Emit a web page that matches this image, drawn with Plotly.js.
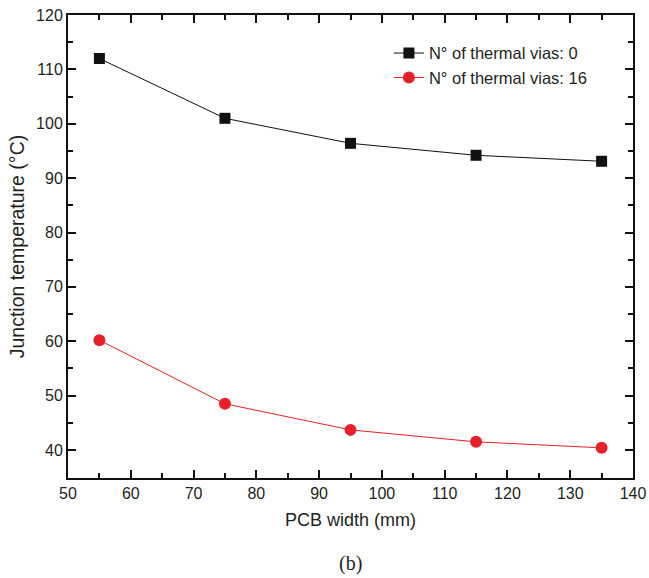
<!DOCTYPE html>
<html><head><meta charset="utf-8">
<script src="https://cdn.plot.ly/plotly-3.0.1.min.js"></script>
<style>body{margin:0;padding:0;background:#fff}#chart{width:649px;height:578px}</style>
</head><body><div id="chart"></div>
<script>
const pcbWidth = [55, 75, 95, 115, 135];
const temp0 = [112.0, 101.0, 96.4, 94.2, 93.1];
const temp16 = [60.2, 48.5, 43.7, 41.5, 40.4];
const name0 = "N\u00b0 of thermal vias: 0";
const name16 = "N\u00b0 of thermal vias: 16";

const font = {family: "Liberation Sans, Arial, sans-serif", size: 16, color: "#231f20"};
const traces = [
  {x: pcbWidth, y: temp0, name: name0, mode: "lines+markers", type: "scatter",
   line: {color: "#111", width: 1}, marker: {symbol: "square", size: 11, color: "#111"}},
  {x: pcbWidth, y: temp16, name: name16, mode: "lines+markers", type: "scatter",
   line: {color: "#e8202a", width: 1}, marker: {symbol: "circle", size: 12, color: "#e8202a"}}
];
const axisCommon = {showgrid: false, zeroline: false, showline: true, linecolor: "#111", linewidth: 2,
  mirror: "allticks", ticks: "inside", ticklen: 8, tickwidth: 2, tickcolor: "#111", tickfont: font};
const layout = {
  width: 649, height: 578,
  margin: {l: 68, r: 16, t: 15, b: 100},
  paper_bgcolor: "#fff", plot_bgcolor: "#fff",
  font: font,
  showlegend: true,
  legend: {x: 0.568, y: 0.955, xanchor: "left", yanchor: "top", bgcolor: "rgba(0,0,0,0)",
    font: Object.assign({}, font, {size: 16.5}), tracegroupgap: 0},
  xaxis: Object.assign({}, axisCommon, {range: [50, 140], dtick: 10, tick0: 50,
    minor: {dtick: 5, ticks: "inside", ticklen: 5, tickwidth: 2, tickcolor: "#111"},
    title: {text: "PCB width (mm)", font: Object.assign({}, font, {size: 18}), standoff: 12}}),
  yaxis: Object.assign({}, axisCommon, {range: [34.85, 120], dtick: 10, tick0: 40,
    minor: {dtick: 5, ticks: "inside", ticklen: 5, tickwidth: 2, tickcolor: "#111"},
    title: {text: "Junction temperature (\u00b0C)", font: Object.assign({}, font, {size: 19.5}), standoff: 6}}),
  annotations: [{text: "(b)", xref: "paper", yref: "paper", x: 0.5, y: -0.184, yanchor: "middle", showarrow: false,
    font: {family: "Liberation Serif, Times New Roman, serif", size: 20, color: "#231f20"}}]
};
Plotly.newPlot("chart", traces, layout, {displayModeBar: false});
</script></body></html>
